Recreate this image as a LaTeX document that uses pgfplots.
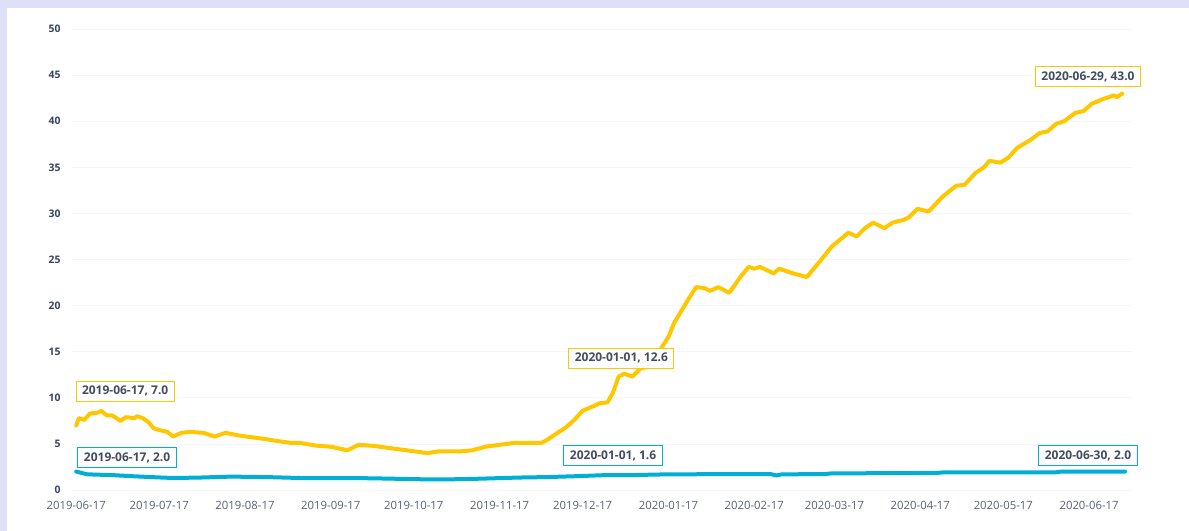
\documentclass[border=0pt]{standalone}
\usepackage{fontspec}
\setmainfont{Open Sans}
\usepackage{pgfplots}
\pgfplotsset{compat=1.18}

\definecolor{cyellow}{RGB}{255,199,0}
\definecolor{cblue}{RGB}{0,174,214}
\definecolor{ctick}{RGB}{90,98,115}
\definecolor{cytick}{RGB}{55,68,98}
\definecolor{clabel}{RGB}{68,76,96}
\definecolor{cgrid}{RGB}{246,246,248}
\definecolor{cframe}{RGB}{221,224,246}

\tikzset{lbl/.style={fill=white, line width=0.75pt, text=clabel,
  font=\fontsize{9}{10}\selectfont\bfseries, inner xsep=4.5pt, inner ysep=3pt,
  text height=7pt, text depth=2pt}}

\begin{document}
\begin{tikzpicture}
\useasboundingbox (-54pt,-30.75pt) rectangle (837.75pt,367.5pt);
\fill[cframe] (-54pt,-30.75pt) rectangle (837.75pt,367.5pt);
\fill[white] (-48.75pt,-30.75pt) rectangle (837.75pt,361.5pt);
\begin{axis}[
  at={(0,0)}, anchor=south west,
  scale only axis, width=795pt, height=345.75pt,
  xmin=-1.5, xmax=381.5, ymin=0, ymax=50,
  axis line style={draw=none}, major tick length=0pt,
  ymajorgrids, grid style={cgrid, line width=0.5pt},
  xtick={0,30,61,92,122,153,183,214,245,274,305,335,366},
  xticklabels={2019-06-17,2019-07-17,2019-08-17,2019-09-17,2019-10-17,2019-11-17,2019-12-17,2020-01-17,2020-02-17,2020-03-17,2020-04-17,2020-05-17,2020-06-17},
  ytick={0,5,...,50},
  xticklabel style={font=\fontsize{8.5}{10}\selectfont, text=ctick, yshift=-5pt},
  yticklabel style={font=\fontsize{7.8}{9}\selectfont\bfseries, text=cytick, xshift=-5pt},
  /pgf/number format/assume math mode=true,
  clip=false
]
% blue series
\addplot[cblue, line width=3pt, line join=round, line cap=round, no markers] table {
0 2.0
2 1.85
4 1.7
9 1.65
14 1.6
20 1.5
27 1.4
35 1.3
45 1.35
50 1.4
56 1.45
69 1.4
81 1.3
100 1.3
110 1.25
127 1.15
134 1.15
143 1.2
160 1.35
170 1.4
181 1.5
190 1.6
198 1.6
214 1.7
240 1.72
251 1.72
253 1.58
255 1.7
270 1.72
273 1.8
311 1.85
313 1.9
354 1.92
356 2.0
379 2.0
};
% yellow series
\addplot[cyellow, line width=3pt, line join=round, line cap=round, no markers] table {
0 7.0
1 7.8
3 7.6
5 8.3
8 8.4
9 8.6
11 8.1
13 8.1
16 7.5
18 7.9
21 7.8
22 8.0
24 7.8
26 7.4
28 6.7
30 6.5
33 6.3
35 5.8
38 6.2
41 6.3
46 6.2
50 5.8
54 6.2
59 5.9
64 5.7
69 5.5
73 5.3
78 5.1
81 5.1
87 4.8
92 4.7
98 4.3
102 4.9
107 4.8
112 4.6
117 4.4
122 4.2
127 4.0
131 4.2
139 4.2
143 4.3
148 4.7
153 4.9
158 5.1
163 5.1
168 5.1
170 5.4
174 6.2
177 6.8
180 7.6
183 8.6
187 9.1
189 9.4
192 9.5
194 10.6
196 12.3
198 12.6
201 12.3
204 13.2
206 13.3
211 15.2
214 16.6
216 18.1
221 20.6
224 22.0
227 21.9
229 21.6
232 22.0
236 21.4
240 23.1
243 24.2
245 24.0
247 24.2
252 23.5
254 24.0
259 23.5
264 23.1
269 24.9
273 26.4
279 27.9
282 27.5
285 28.4
288 29.0
292 28.4
295 29.0
299 29.3
301 29.6
304 30.5
308 30.2
313 31.8
318 33.0
321 33.1
325 34.4
328 35.0
330 35.7
334 35.5
337 36.1
340 37.1
345 38.0
348 38.7
351 38.9
354 39.7
357 40.0
361 40.9
364 41.1
367 41.9
371 42.4
375 42.8
376 42.6
378 43.0
};
\node[lbl, draw=cyellow] at (axis cs:17.7,10.7) {2019-06-17, 7.0};
\node[lbl, draw=cblue] at (axis cs:18.4,3.5) {2019-06-17, 2.0};
\node[lbl, draw=cyellow] at (axis cs:197,14.3) {2020-01-01, 12.6};
\node[lbl, draw=cblue] at (axis cs:194,3.7) {2020-01-01, 1.6};
\node[lbl, draw=cyellow] at (axis cs:365.6,44.8) {2020-06-29, 43.0};
\node[lbl, draw=cblue] at (axis cs:365.6,3.7) {2020-06-30, 2.0};
\end{axis}
\end{tikzpicture}
\end{document}
